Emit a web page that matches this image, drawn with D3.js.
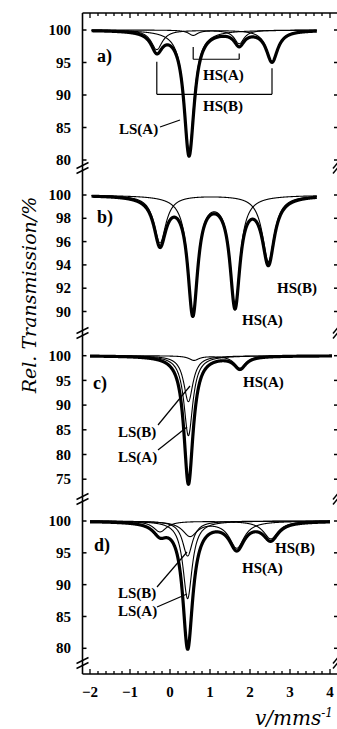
<!DOCTYPE html>
<html><head><meta charset="utf-8">
<script src="https://cdn.jsdelivr.net/npm/d3@7"></script>
<style>body{margin:0;background:#fff}svg{display:block}</style>
</head><body>
<svg id="chart" width="337" height="729"></svg>
<script>
// ---------- data ----------
const velocityDomain = [-2.2, 4.2];
const xTickValues = [-2, -1, 0, 1, 2, 3, 4];
const panelNames = ["a)", "b)", "c)", "d)"];
const yTicksA = [100, 95, 90, 85, 80];
const yTicksB = [100, 98, 96, 94, 92, 90];
const yTicksC = [100, 95, 90, 85, 80, 75];
const yTicksD = [100, 95, 90, 85, 80];
// measured velocity range of each spectrum (mm/s)
const rangeA = [-1.96, 3.67];
const rangeB = [-1.96, 3.67];
const rangeC = [-2.0, 4.05];
const rangeD = [-2.0, 4.0];
// Lorentzian subspectra: [centre v (mm/s), depth (%), FWHM (mm/s)]
const aLSA = [[0.475, 18.7, 0.30]];
const aHSA = [[0.58, 0.8, 0.28], [1.73, 2.1, 0.30]];
const aHSB = [[-0.33, 3.0, 0.34], [2.55, 4.8, 0.34]];
const bHSA = [[0.57, 10.0, 0.30], [1.625, 9.3, 0.30]];
const bHSB = [[-0.25, 4.1, 0.36], [2.46, 5.7, 0.36]];
const cLSA = [[0.46, 16.2, 0.27]];
const cLSB = [[0.46, 9.3, 0.28]];
const cHSA = [[0.60, 0.9, 0.30], [1.75, 2.5, 0.35]];
const dLSA = [[0.44, 12.2, 0.28]];
const dLSB = [[0.44, 5.5, 0.30]];
const dHSA = [[0.50, 2.3, 0.45], [1.67, 4.2, 0.45]];
const dHSB = [[-0.25, 1.7, 0.40], [2.52, 2.8, 0.45]];

// ---------- drawing ----------
const svg = d3.select("#chart");
const L = 82.5, R = 338, TOP = 13, BOT = 674;
const x = d3.scaleLinear().domain(velocityDomain).range([82, 338]);

const panels = [
  {name: panelNames[0], ticks: yTicksA, y: d3.scaleLinear().domain([100, 80]).range([30, 160]), range: rangeA, comps: [aLSA, aHSA, aHSB], brk: 168},
  {name: panelNames[1], ticks: yTicksB, y: d3.scaleLinear().domain([100, 90]).range([195, 311.5]), range: rangeB, comps: [bHSA, bHSB], brk: 333},
  {name: panelNames[2], ticks: yTicksC, y: d3.scaleLinear().domain([100, 75]).range([355.7, 479.2]), range: rangeC, comps: [cLSA, cLSB, cHSA], brk: 499},
  {name: panelNames[3], ticks: yTicksD, y: d3.scaleLinear().domain([100, 80]).range([521, 648.3]), range: rangeD, comps: [dLSA, dLSB, dHSA, dHSB], brk: 663}
];

function absorb(lines, v) {
  let s = 0;
  lines.forEach(([c, d, w]) => { s += d / (1 + Math.pow((v - c) / (w / 2), 2)); });
  return s;
}

const numFont = "'Liberation Serif', 'Times New Roman', serif";

panels.forEach(p => {
  const vs = d3.range(p.range[0], p.range[1] + 1e-9, 0.005);
  const line = d3.line().x(d => x(d[0])).y(d => p.y(d[1])).curve(d3.curveLinear);
  p.comps.forEach(c => {
    svg.append("path").attr("d", line(vs.map(v => [v, 100 - absorb(c, v)])))
      .attr("fill", "none").attr("stroke", "#000").attr("stroke-width", 1.1);
  });
  svg.append("path").attr("d", line(vs.map(v => [v, 100 - d3.sum(p.comps, c => absorb(c, v))])))
    .attr("fill", "none").attr("stroke", "#000").attr("stroke-width", 3.2).attr("stroke-linejoin", "round");
  p.ticks.forEach(t => {
    const yy = p.y(t);
    svg.append("line").attr("x1", L).attr("x2", L + 4).attr("y1", yy).attr("y2", yy).attr("stroke", "#000").attr("stroke-width", 1.5);
    svg.append("line").attr("x1", 334).attr("x2", 337).attr("y1", yy).attr("y2", yy).attr("stroke", "#000").attr("stroke-width", 1.5);
    svg.append("text").attr("x", 71).attr("y", yy).attr("dy", "0.34em").attr("text-anchor", "end")
      .attr("font-family", numFont).attr("font-weight", "bold").attr("font-size", 15).text(t);
  });
  [[L - 6, L + 6], [333, 338]].forEach(([a, b]) => {
    [-2.5, 2.5].forEach(o => {
      svg.append("line").attr("x1", a).attr("x2", b).attr("y1", p.brk + o + 3).attr("y2", p.brk + o - 3)
        .attr("stroke", "#000").attr("stroke-width", 1.4);
    });
  });
});

// frame (right edge lies just outside the picture)
svg.append("line").attr("x1", L).attr("x2", L).attr("y1", TOP).attr("y2", BOT).attr("stroke", "#000").attr("stroke-width", 1.6);
svg.append("line").attr("x1", L).attr("x2", R).attr("y1", TOP).attr("y2", TOP).attr("stroke", "#000").attr("stroke-width", 1.6);
svg.append("line").attr("x1", L).attr("x2", R).attr("y1", BOT).attr("y2", BOT).attr("stroke", "#000").attr("stroke-width", 1.6);

d3.range(-2.0, 4.01, 0.2).forEach(v => {
  const major = Math.abs(v - Math.round(v)) < 1e-6;
  const len = major ? 5 : 3;
  const xx = x(v);
  svg.append("line").attr("x1", xx).attr("x2", xx).attr("y1", BOT).attr("y2", BOT - len).attr("stroke", "#000").attr("stroke-width", 1.3);
  svg.append("line").attr("x1", xx).attr("x2", xx).attr("y1", TOP).attr("y2", TOP + len).attr("stroke", "#000").attr("stroke-width", 1.3);
});
xTickValues.forEach(v => {
  svg.append("text").attr("x", x(v)).attr("y", 697).attr("text-anchor", "middle")
    .attr("font-family", numFont).attr("font-weight", "bold").attr("font-size", 15)
    .text(v < 0 ? "\u2212" + Math.abs(v) : v);
});

const xt = svg.append("text").attr("x", 333).attr("y", 725).attr("text-anchor", "end")
  .attr("font-family", "'DejaVu Serif', serif").attr("font-style", "italic").attr("font-size", 20);
xt.append("tspan").text("v/mms");
xt.append("tspan").attr("dy", -8).attr("font-size", 12).text("-1");
svg.append("text").attr("transform", "translate(36,295) rotate(-90)").attr("text-anchor", "middle")
  .attr("font-family", "'DejaVu Serif', serif").attr("font-style", "italic").attr("font-size", 19)
  .text("Rel. Transmission/%");

const letterPos = [[97, 62], [97, 223], [93, 389], [94, 551]];
panels.forEach((p, i) => {
  svg.append("text").attr("x", letterPos[i][0]).attr("y", letterPos[i][1])
    .attr("font-family", numFont).attr("font-weight", "bold").attr("font-size", 18).text(p.name);
});

function label(txt, xx, yy) {
  svg.append("text").attr("x", xx).attr("y", yy).attr("font-family", numFont)
    .attr("font-weight", "bold").attr("font-size", 15).text(txt);
}
function seg(x1, y1, x2, y2) {
  svg.append("line").attr("x1", x1).attr("y1", y1).attr("x2", x2).attr("y2", y2)
    .attr("stroke", "#000").attr("stroke-width", 1.2);
}
const ya = panels[0].y;
seg(x(aHSA[0][0]), ya(97.4), x(aHSA[0][0]), ya(95.5));
seg(x(aHSA[0][0]), ya(95.5), x(aHSA[1][0]), ya(95.5));
seg(x(aHSA[1][0]), ya(96.4), x(aHSA[1][0]), ya(95.5));
seg(x(aHSB[0][0]), ya(95.1), x(aHSB[0][0]), ya(90.1));
seg(x(aHSB[0][0]), ya(90.1), x(aHSB[1][0]), ya(90.1));
seg(x(aHSB[1][0]), ya(94.1), x(aHSB[1][0]), ya(90.1));
label("HS(A)", 203, 80);
label("HS(B)", 203, 111);
label("LS(A)", 119, 134);
seg(160, 127, 180, 120);
label("HS(B)", 277, 293);
label("HS(A)", 242, 325);
label("HS(A)", 243, 387);
label("LS(B)", 118, 437);
seg(158, 425, 190, 386);
label("LS(A)", 118, 462);
seg(158, 450, 187, 427);
label("HS(B)", 275, 553);
label("HS(A)", 242, 573);
label("LS(B)", 118, 598);
seg(157, 587, 187, 552);
label("LS(A)", 118, 616);
seg(157, 607, 187, 594);
</script>
</body></html>
